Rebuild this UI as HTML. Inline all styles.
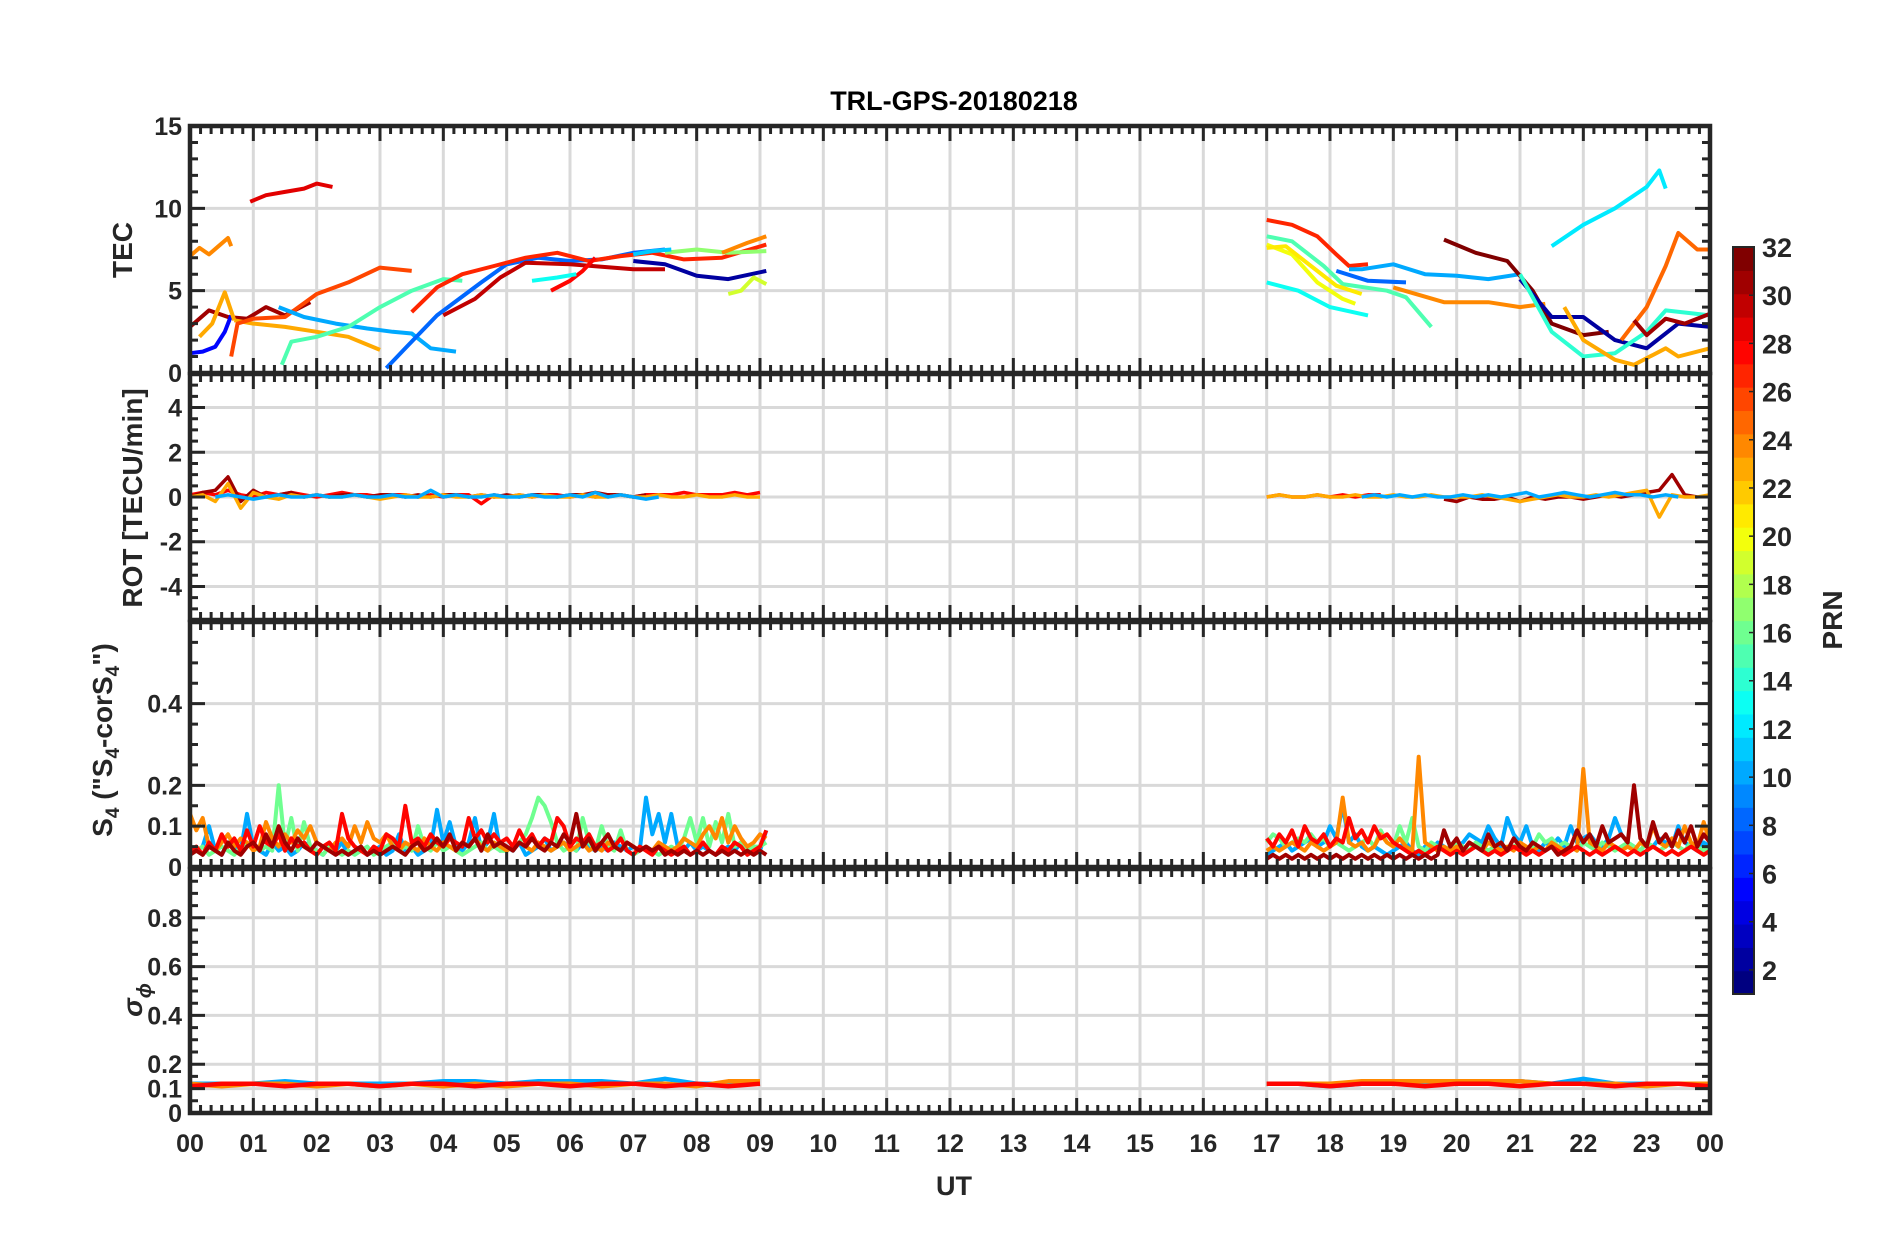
<!DOCTYPE html>
<html><head><meta charset="utf-8"><style>
html,body{margin:0;padding:0;background:#fff;}
svg{display:block;font-family:"Liberation Sans",sans-serif;}
</style></head><body>
<svg id="chart" width="1902" height="1236" viewBox="0 0 1902 1236" xmlns="http://www.w3.org/2000/svg">
<rect width="1902" height="1236" fill="#fff"/>
<text x="954" y="110" text-anchor="middle" font-size="27" font-weight="bold" fill="#000">TRL-GPS-20180218</text>
<g id="layer"></g>
</svg>
<script>
// ---------- data ----------
const tecPrn = [29,24,31,5,23,23,26,10,15,8,27,30,28,13,2,17,24,19,11, 27,15,20,13,21,8,10,24,32,2,14,23,25,12,31];
const tecT = [
[0.95,1.2,1.5,1.8,2.0,2.25],
[0.0,0.15,0.3,0.45,0.6,0.65],
[0.0,0.3,0.6,0.9,1.2,1.5,1.9],
[0.0,0.2,0.4,0.55,0.65],
[0.15,0.35,0.55,0.7],
[0.7,1.0,1.5,2.0,2.5,3.0],
[0.65,0.75,1.0,1.5,2.0,2.5,3.0,3.5],
[1.4,1.8,2.3,2.8,3.2,3.5,3.8,4.2],
[1.45,1.6,2.0,2.5,3.0,3.5,4.0,4.3],
[3.1,3.4,3.9,4.6,5.0,5.5,6.0,6.5,7.0,7.5],
[3.5,3.9,4.3,4.8,5.3,5.8,6.3,6.8,7.3,7.8,8.4,9.1],
[4.0,4.5,4.9,5.3,6.0,7.0,7.5],
[5.7,6.0,6.2,6.4],
[5.4,5.8,6.1],
[7.0,7.5,8.0,8.5,9.1],
[7.5,8.0,8.5,9.1],
[8.4,8.8,9.1],
[8.5,8.7,8.9,9.1],
[7.0,7.3,7.6],
[17.0,17.4,17.8,18.1,18.3,18.6],
[17.0,17.4,17.9,18.2,18.9,19.2,19.6],
[17.0,17.4,17.8,18.2,18.4],
[17.0,17.5,18.0,18.6],
[17.0,17.3,17.7,18.1,18.5],
[18.1,18.6,19.2],
[18.3,18.5,19.0,19.5,20.0,20.5,21.0],
[19.0,19.8,20.5,21.0,21.4],
[19.8,20.3,20.8,21.2,21.5,22.0,22.4],
[21.0,21.5,22.0,22.5,23.0,23.5,24.0],
[21.0,21.5,22.0,22.5,23.0,23.3,24.0],
[21.7,22.0,22.5,22.8,23.3,23.5,24.0],
[22.6,23.0,23.3,23.5,23.8,24.0],
[21.5,22.0,22.5,23.0,23.2,23.3],
[22.8,23.0,23.3,23.6,24.0]
];
const tecV = [
[10.4,10.8,11.0,11.2,11.5,11.3],
[7.1,7.6,7.2,7.7,8.2,7.7],
[2.8,3.8,3.4,3.3,4.0,3.5,4.3],
[1.2,1.3,1.6,2.5,3.5],
[2.2,3.0,4.9,3.2],
[3.2,3.0,2.8,2.5,2.2,1.4],
[1.0,3.0,3.3,3.4,4.8,5.5,6.4,6.2],
[4.0,3.4,3.0,2.7,2.5,2.4,1.5,1.3],
[0.5,1.9,2.2,2.8,4.0,5.0,5.7,5.6],
[0.3,1.5,3.5,5.5,6.6,7.0,6.8,6.9,7.3,7.5],
[3.7,5.2,6.0,6.5,7.0,7.3,6.8,7.1,7.3,6.9,7.0,7.8],
[3.5,4.5,5.8,6.7,6.6,6.3,6.3],
[5.0,5.6,6.2,7.0],
[5.6,5.8,6.0],
[6.8,6.6,5.9,5.7,6.2],
[7.3,7.5,7.3,7.4],
[7.3,7.9,8.3],
[4.8,5.0,5.8,5.4],
[7.2,7.4,7.5],
[9.3,9.0,8.3,7.2,6.5,6.6],
[8.3,8.0,6.5,5.4,5.0,4.6,2.8],
[7.8,7.2,5.5,4.5,4.2],
[5.5,5.0,4.0,3.5],
[7.6,7.7,6.5,5.3,4.8],
[6.2,5.6,5.5],
[6.3,6.3,6.6,6.0,5.9,5.7,6.0],
[5.2,4.3,4.3,4.0,4.2],
[8.1,7.3,6.8,5.0,3.0,2.3,2.5],
[5.7,3.4,3.4,2.0,1.5,3.0,2.8],
[6.0,2.5,1.0,1.2,2.5,3.8,3.5],
[4.0,2.0,0.8,0.5,1.5,1.0,1.5],
[2.0,4.0,6.5,8.5,7.5,7.5],
[7.7,9.0,10.0,11.3,12.3,11.2],
[3.2,2.3,3.3,3.0,3.6]
];
// ROT series: start hour, step 0.2 h
const rotPrn = [28,31,23,10];
const rotStart = [0,0,0,0.4];
const rotAM = [
[0.1,0.2,0.1,0.3,0.1,0.0,0.2,0.1,0.2,0.1,0.0,0.1,0.2,0.1,0.1,0.0,0.1,0.1,0.0,0.1,0.0,0.1,0.1,-0.3,0.1,0.0,0.1,0.0,0.1,0.1,0.0,0.1,0.0,0.1,0.1,0.0,0.1,0.1,0.1,0.2,0.1,0.1,0.1,0.2,0.1,0.2],
[0.0,0.2,0.3,0.9,-0.2,0.3,0.0,0.1,0.2,0.0,0.1,0.0,0.1,0.1,0.0,0.1,0.1,0.0,0.1,0.0,0.1,0.1,0.0,0.1,0.0,0.1,0.0,0.1,0.1,0.0,0.1,0.1,0.2,0.1,0.1,0.0,0.1],
[0.0,0.1,-0.2,0.6,-0.5,0.2,0.0,-0.1,0.1,0.0,0.1,0.0,0.0,0.1,0.0,-0.1,0.0,0.1,0.0,0.0,0.1,0.0,0.0,0.1,0.0,0.0,0.1,0.0,0.1,0.0,0.0,0.1,0.0,0.0,0.1,0.0,0.0,0.1,0.0,0.0,0.1,0.0,0.0,0.1,0.0,0.0],
[0.0,0.1,0.0,-0.1,0.0,0.1,0.0,0.0,0.1,0.0,0.0,0.1,0.0,0.0,0.1,0.0,0.0,0.3,0.0,0.1,0.0,0.0,0.1,0.0,0.0,0.1,0.0,0.0,0.1,0.0,0.2,0.0,0.1,0.0,-0.1,0.0]
];
const rotStartPM = [17,19.8,17,18.5];
const rotPM = [
[0.0,0.1,0.0,0.0,0.1,0.0,0.1,0.0,0.1,0.1],
[-0.1,-0.2,0.0,-0.1,-0.1,0.0,-0.2,0.0,-0.1,0.0,0.0,-0.1,0.0,0.1,0.0,0.1,0.2,0.3,1.0,0.1,0.0],
[0.0,0.1,0.0,0.0,0.1,0.0,0.0,0.1,0.0,0.0,0.1,0.0,0.0,0.1,0.0,0.0,0.0,0.1,0.0,-0.1,-0.2,-0.1,0.0,0.1,0.0,0.0,0.1,0.0,0.1,0.2,0.3,-0.9,0.1,0.0,0.0,0.1],
[0.0,0.1,0.0,0.1,0.0,0.1,0.0,0.0,0.1,0.0,0.1,0.0,0.1,0.2,0.0,0.1,0.2,0.1,0.0,0.1,0.2,0.1,0.1,0.0,0.1,0.0]
];
// S4 series: step 0.1 h
const s4Prn = [10,16,24,28,31];
const s4AM = [
[.03,.04,.05,.10,.04,.03,.06,.05,.04,.13,.05,.04,.03,.06,.04,.05,.03,.04,.06,.05,.04,.03,.05,.04,.06,.03,.04,.05,.03,.04,.05,.03,.04,.08,.04,.05,.03,.04,.05,.14,.06,.11,.05,.04,.06,.12,.04,.06,.13,.04,.05,.04,.06,.03,.04,.05,.07,.04,.05,.06,.05,.04,.06,.05,.04,.05,.04,.06,.05,.04,.05,.04,.17,.08,.13,.06,.13,.05,.04,.06,.04,.05,.04,.03,.04,.05,.04,.06,.04,.05,.04,.09],
[.03,.04,.05,.03,.04,.05,.04,.03,.05,.06,.05,.04,.05,.04,.20,.05,.12,.04,.11,.05,.04,.03,.05,.04,.03,.04,.03,.04,.05,.03,.04,.05,.06,.04,.05,.04,.10,.05,.04,.06,.04,.05,.04,.03,.04,.05,.06,.04,.05,.04,.04,.05,.06,.08,.12,.17,.15,.11,.06,.04,.05,.04,.12,.06,.04,.10,.05,.04,.09,.04,.03,.04,.05,.04,.03,.04,.05,.04,.07,.12,.06,.12,.05,.11,.06,.13,.05,.06,.04,.05,.05,.06],
[.13,.09,.12,.05,.04,.06,.08,.05,.07,.06,.04,.05,.11,.07,.05,.08,.06,.09,.07,.10,.06,.05,.04,.06,.07,.05,.10,.06,.11,.07,.06,.08,.05,.04,.06,.05,.04,.07,.05,.04,.06,.05,.04,.06,.05,.07,.05,.04,.06,.05,.04,.05,.06,.05,.04,.06,.05,.04,.05,.06,.04,.05,.06,.04,.05,.04,.06,.05,.04,.06,.05,.04,.05,.04,.06,.05,.04,.05,.07,.06,.05,.08,.10,.07,.12,.06,.10,.07,.05,.06,.08,.07],
[.04,.05,.03,.06,.04,.08,.05,.07,.04,.09,.05,.10,.06,.05,.08,.04,.07,.05,.06,.04,.03,.05,.06,.04,.13,.07,.05,.04,.03,.05,.04,.08,.07,.05,.15,.06,.07,.05,.08,.06,.05,.07,.06,.05,.12,.07,.09,.06,.08,.06,.07,.05,.09,.06,.08,.05,.07,.06,.12,.10,.05,.07,.06,.08,.05,.06,.04,.05,.07,.04,.03,.05,.04,.03,.05,.04,.03,.04,.05,.03,.04,.06,.04,.03,.05,.04,.06,.05,.03,.04,.05,.09],
[.03,.04,.03,.05,.04,.03,.06,.04,.03,.05,.06,.04,.08,.05,.10,.06,.04,.07,.05,.04,.06,.05,.04,.03,.04,.03,.04,.05,.03,.04,.03,.04,.05,.04,.03,.05,.06,.04,.05,.07,.05,.08,.04,.06,.05,.07,.04,.08,.05,.06,.05,.04,.06,.05,.07,.05,.04,.06,.05,.08,.06,.13,.05,.07,.04,.06,.08,.05,.04,.06,.05,.04,.05,.04,.05,.03,.04,.03,.04,.03,.04,.03,.04,.03,.04,.03,.04,.03,.04,.03,.04,.03]
];
const s4PM = [
[.03,.04,.05,.06,.04,.05,.06,.07,.05,.06,.10,.07,.15,.06,.08,.05,.04,.05,.04,.03,.04,.05,.06,.04,.03,.05,.04,.06,.05,.04,.05,.06,.08,.07,.06,.10,.07,.05,.12,.08,.06,.10,.05,.04,.06,.05,.07,.05,.10,.06,.07,.08,.06,.05,.07,.12,.08,.06,.05,.04,.06,.05,.07,.06,.05,.10,.06,.05,.04,.06,.05],
[.06,.08,.07,.05,.06,.07,.06,.08,.06,.07,.05,.06,.05,.04,.05,.06,.07,.05,.09,.06,.05,.10,.06,.12,.05,.04,.06,.05,.04,.05,.06,.05,.04,.06,.05,.04,.05,.06,.04,.05,.06,.04,.05,.08,.06,.07,.05,.06,.05,.04,.06,.05,.04,.06,.05,.04,.05,.06,.05,.04,.06,.05,.04,.05,.06,.05,.04,.06,.05,.04,.05],
[.04,.05,.04,.05,.06,.05,.04,.06,.05,.04,.05,.06,.17,.06,.05,.06,.04,.05,.08,.06,.05,.07,.05,.04,.27,.06,.05,.04,.05,.04,.05,.04,.06,.05,.04,.06,.05,.04,.05,.04,.06,.05,.04,.05,.04,.06,.05,.04,.05,.04,.24,.06,.05,.04,.06,.05,.04,.05,.04,.06,.05,.10,.06,.05,.07,.05,.10,.06,.05,.11,.06],
[.07,.05,.08,.06,.09,.05,.10,.07,.06,.08,.05,.07,.06,.12,.07,.09,.06,.10,.07,.08,.06,.05,.04,.03,.04,.03,.04,.05,.04,.03,.04,.03,.04,.05,.04,.03,.04,.03,.04,.05,.04,.03,.04,.03,.04,.05,.04,.03,.04,.05,.04,.03,.04,.03,.04,.05,.04,.03,.04,.03,.04,.05,.04,.03,.04,.03,.04,.05,.04,.03,.04],
[.02,.03,.02,.03,.02,.03,.02,.03,.02,.03,.02,.03,.02,.03,.02,.03,.02,.03,.02,.03,.02,.03,.02,.03,.02,.03,.02,.03,.09,.05,.07,.04,.06,.05,.04,.08,.05,.06,.04,.07,.05,.04,.06,.05,.04,.05,.03,.04,.05,.09,.06,.08,.05,.10,.06,.07,.08,.06,.20,.07,.05,.11,.06,.08,.05,.09,.06,.10,.05,.08,.06]
];
// sigma-phi series: step 0.5 h
const sigPrn = [10,24,28];
const sigAM = [
[.12,.12,.12,.13,.12,.12,.12,.12,.13,.13,.12,.13,.13,.13,.12,.14,.12,.12,.12],
[.12,.11,.12,.12,.11,.12,.11,.12,.11,.12,.11,.12,.12,.11,.12,.12,.11,.13,.13],
[.11,.12,.12,.11,.12,.12,.11,.12,.12,.11,.12,.12,.11,.12,.12,.11,.12,.11,.12]
];
const sigPM = [
[.12,.12,.11,.12,.12,.12,.12,.13,.13,.12,.14,.12,.12,.12,.12],
[.12,.12,.12,.13,.13,.13,.13,.13,.13,.12,.12,.12,.11,.12,.12],
[.12,.12,.11,.12,.12,.11,.12,.12,.11,.12,.12,.11,.12,.12,.11]
];
const xTickLabels = ["00","01","02","03","04","05","06","07","08","09","10","11","12","13","14","15","16","17","18","19","20","21","22","23","00"];
const cbTicks = [2,4,6,8,10,12,14,16,18,20,22,24,26,28,30,32];

// ---------- layout ----------
const NS="http://www.w3.org/2000/svg";
const layer=document.getElementById('layer');
const X0=190, X1=1710;
const panels=[
 {name:'tec',top:126,bot:373,min:0,max:15,ticks:[0,5,10,15],labels:['0','5','10','15'],grid:[5,10],minor:1},
 {name:'rot',top:374,bot:620,min:-5.5,max:5.5,ticks:[-4,-2,0,2,4],labels:['-4','-2','0','2','4'],grid:[-4,-2,0,2,4],minor:0.5},
 {name:'s4',top:622,bot:867,min:0,max:0.6,ticks:[0,0.1,0.2,0.4],labels:['0','0.1','0.2','0.4'],grid:[0.1,0.2,0.4],minor:0.05},
 {name:'sigma',top:869,bot:1113,min:0,max:1,ticks:[0,0.1,0.2,0.4,0.6,0.8],labels:['0','0.1','0.2','0.4','0.6','0.8'],grid:[0.1,0.2,0.4,0.6,0.8],minor:0.05}
];
function xs(h){return X0+(X1-X0)*h/24;}
function ys(p,v){return p.bot-(p.bot-p.top)*(v-p.min)/(p.max-p.min);}
function jet(prn){
  const t=(prn-1)/31;
  const r=Math.min(Math.max(Math.min(4*t-1.5,-4*t+4.5),0),1);
  const g=Math.min(Math.max(Math.min(4*t-0.5,-4*t+3.5),0),1);
  const b=Math.min(Math.max(Math.min(4*t+0.5,-4*t+2.5),0),1);
  return `rgb(${Math.round(r*255)},${Math.round(g*255)},${Math.round(b*255)})`;
}
function el(tag,attrs,parent){const e=document.createElementNS(NS,tag);for(const k in attrs)e.setAttribute(k,attrs[k]);(parent||layer).appendChild(e);return e;}
const AX='#262626';

panels.forEach(p=>{
  const g=el('g',{});
  
  
  for(let h=1;h<24;h++){const l=el('line',{x1:xs(h),x2:xs(h),y1:p.top,y2:p.bot,stroke:'#d9d9d9','stroke-width':3},g);
    
    }
  p.grid.forEach(v=>{const l=el('line',{x1:X0,x2:X1,y1:ys(p,v),y2:ys(p,v),stroke:'#d9d9d9','stroke-width':3},g);
    
    });
  p.g=g;
  p.data=el('g',{},g);
  
  
});

function poly(p,ts,vs,prn,w,name){
  const pts=ts.map((t,i)=>xs(t).toFixed(1)+','+ys(p,vs[i]).toFixed(1)).join(' ');
  const e=el('polyline',{points:pts,fill:'none',stroke:jet(prn),'stroke-width':w,'stroke-linejoin':'round'},p.data);
  
  
}
tecT.forEach((ts,i)=>poly(panels[0],ts,tecV[i],tecPrn[i],4,'tec-line-prn'+tecPrn[i]));
rotAM.forEach((vs,i)=>poly(panels[1],vs.map((v,j)=>rotStart[i]+0.2*j),vs,rotPrn[i],3.5,'rot-line-prn'+rotPrn[i]));
rotPM.forEach((vs,i)=>poly(panels[1],vs.map((v,j)=>rotStartPM[i]+0.2*j),vs,rotPrn[i],3.5,'rot-line-prn'+rotPrn[i]));
s4AM.forEach((vs,i)=>poly(panels[2],vs.map((v,j)=>0.1*j),vs,s4Prn[i],4,'s4-line-prn'+s4Prn[i]));
s4PM.forEach((vs,i)=>poly(panels[2],vs.map((v,j)=>17+0.1*j),vs,s4Prn[i],4,'s4-line-prn'+s4Prn[i]));
sigAM.forEach((vs,i)=>poly(panels[3],vs.map((v,j)=>Math.min(0.5*j,9.1)),vs,sigPrn[i],4.5,'sigma-line-prn'+sigPrn[i]));
sigPM.forEach((vs,i)=>poly(panels[3],vs.map((v,j)=>17+0.5*j),vs,sigPrn[i],4.5,'sigma-line-prn'+sigPrn[i]));

panels.forEach((p,pi)=>{
  const g=p.g;
  let d='';
  for(let m=0;m<=24*6;m++){const x=xs(m/6);const L=(m%6===0)?15:8;
    d+=`M${x},${p.bot}v${-L}M${x},${p.top}v${L}`;}
  const n=Math.round((p.max-p.min)/p.minor);
  for(let k=0;k<=n;k++){const v=p.min+k*p.minor;const y=ys(p,v);
    const major=p.ticks.some(t=>Math.abs(t-v)<1e-6);const L=major?15:8;
    d+=`M${X0},${y}h${L}M${X1},${y}h${-L}`;}
  const tk=el('path',{d:d,stroke:AX,'stroke-width':3,fill:'none'},g);
  
  
  const box=el('rect',{x:X0,y:p.top,width:X1-X0,height:p.bot-p.top,fill:'none',stroke:AX,'stroke-width':4.5},g);
  
  
  p.ticks.forEach((v,i)=>{const t=el('text',{x:X0-8,y:ys(p,v)+9,'text-anchor':'end','font-size':25,'font-weight':'bold',fill:AX},g);
    t.textContent=p.labels[i];
    
    });
});
xTickLabels.forEach((s,i)=>{const t=el('text',{x:xs(i),y:1152,'text-anchor':'middle','font-size':25,'font-weight':'bold',fill:AX});
  t.textContent=s;
  
  });
const CB={x:1733,w:21,top:247,bot:994};
function cy(v){return CB.bot-(CB.bot-CB.top)*(v-1)/31;}
const cbg=el('g',{});


for(let k=0;k<32;k++){const y0=CB.bot-(CB.bot-CB.top)*k/32, y1=CB.bot-(CB.bot-CB.top)*(k+1)/32;
  const r=el('rect',{x:CB.x,y:y1,width:CB.w,height:y0-y1+0.6,fill:jet(k+1)},cbg);
  
  }
el('rect',{x:CB.x,y:CB.top,width:CB.w,height:CB.bot-CB.top,fill:'none',stroke:AX,'stroke-width':2},cbg);
cbTicks.forEach(v=>{const y=cy(v);
  el('line',{x1:CB.x+CB.w-5,x2:CB.x+CB.w,y1:y,y2:y,stroke:AX,'stroke-width':1.5},cbg);
  const t=el('text',{x:CB.x+CB.w+8,y:y+10,'font-size':27,'font-weight':'bold',fill:AX},cbg);
  t.textContent=v;
  
  });
</script>
<script>
const svg=document.getElementById('chart');
function addT(txt,x,y,rot,size,name,extra){
  const t=document.createElementNS("http://www.w3.org/2000/svg",'text');
  t.setAttribute('x',x);t.setAttribute('y',y);
  t.setAttribute('transform',`rotate(${rot} ${x} ${y})`);
  t.setAttribute('text-anchor','middle');t.setAttribute('font-size',size);t.setAttribute('font-weight','bold');t.setAttribute('fill','#262626');
  if(extra) t.setAttribute('font-style',extra);
  t.innerHTML=txt;
  
  
  svg.appendChild(t);return t;
}
addT('UT',954,1195,0,27,'x-axis-title');
addT('TEC',132,250,-90,28,'tec-axis-title');
addT('ROT [TECU/min]',142,498,-90,28,'rot-axis-title');
addT('S<tspan dy="7" font-size="19">4</tspan><tspan dy="-7"> ("S</tspan><tspan dy="7" font-size="19">4</tspan><tspan dy="-7">-corS</tspan><tspan dy="7" font-size="19">4</tspan><tspan dy="-7">")</tspan>',112,740,-90,28,'s4-axis-title');
addT('σ<tspan dy="9" font-size="20">ϕ</tspan>',142,1000,-90,28,'sigma-axis-title','italic');
addT('PRN',1842,620,-90,28,'colorbar-title');
</script>
</body></html>
